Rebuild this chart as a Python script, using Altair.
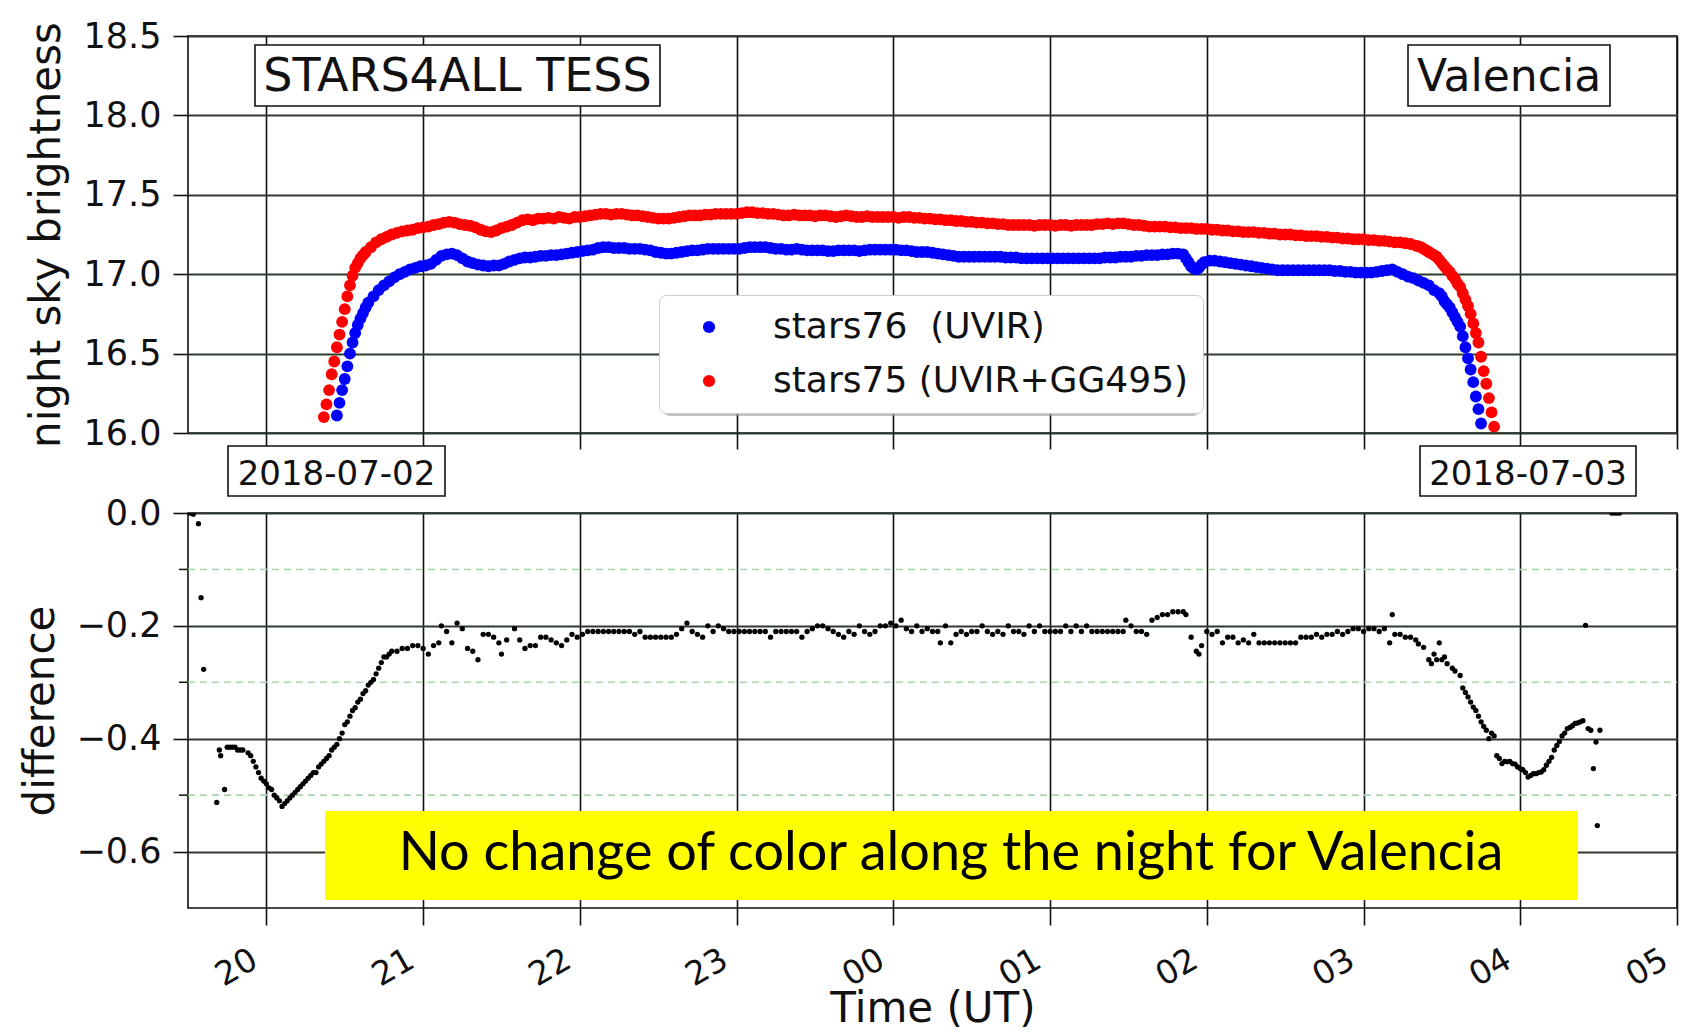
import altair as alt
import pandas as pd

# ---------------- data (minutes after 20:00 UT, value) ----------------
STARS76_UVIR = [
    (27, 16.11), (28, 16.19), (29, 16.27), (30, 16.34), (31, 16.42), (32, 16.50), (33, 16.57), (34, 16.63),
    (35, 16.68), (36, 16.72), (37, 16.755), (38, 16.79), (39, 16.82), (41, 16.86), (43, 16.90), (45, 16.93),
    (47, 16.955), (49, 16.98), (51, 17.00), (53, 17.015), (55, 17.03), (57, 17.04), (59, 17.05), (61, 17.055),
    (63, 17.065), (65, 17.09), (67, 17.115), (69, 17.125), (71, 17.13), (73, 17.12), (75, 17.10), (77, 17.08),
    (79, 17.07), (81, 17.06), (83, 17.055), (85, 17.05), (87, 17.055), (89, 17.055), (91, 17.065), (93, 17.08),
    (95, 17.09), (97, 17.10), (99, 17.105), (101, 17.105), (103, 17.11), (105, 17.115), (107, 17.115), (109, 17.12),
    (111, 17.12), (113, 17.125), (115, 17.13), (117, 17.135), (119, 17.14), (121, 17.145), (123, 17.15), (125, 17.155),
    (127, 17.165), (129, 17.17), (131, 17.17), (133, 17.165), (135, 17.165), (137, 17.165), (139, 17.16), (141, 17.16),
    (143, 17.16), (145, 17.155), (147, 17.15), (149, 17.14), (151, 17.135), (153, 17.13), (155, 17.13), (157, 17.135),
    (159, 17.14), (161, 17.145), (163, 17.15), (165, 17.15), (167, 17.155), (169, 17.16), (171, 17.16), (173, 17.16),
    (175, 17.16), (177, 17.16), (179, 17.16), (181, 17.16), (183, 17.165), (185, 17.17), (187, 17.17), (189, 17.17),
    (191, 17.17), (193, 17.165), (195, 17.16), (197, 17.16), (199, 17.155), (201, 17.155), (203, 17.16), (205, 17.155),
    (207, 17.15), (209, 17.15), (211, 17.15), (213, 17.15), (215, 17.145), (217, 17.145), (219, 17.15), (221, 17.15),
    (223, 17.15), (225, 17.15), (227, 17.145), (229, 17.15), (231, 17.155), (233, 17.155), (235, 17.155), (237, 17.155),
    (239, 17.155), (241, 17.155), (243, 17.15), (245, 17.15), (247, 17.145), (249, 17.14), (251, 17.14), (253, 17.14),
    (255, 17.135), (257, 17.13), (259, 17.125), (261, 17.12), (263, 17.115), (265, 17.11), (267, 17.11), (269, 17.11),
    (271, 17.11), (273, 17.11), (275, 17.11), (277, 17.11), (279, 17.11), (281, 17.11), (283, 17.105), (285, 17.105),
    (287, 17.105), (289, 17.10), (291, 17.10), (293, 17.10), (295, 17.10), (297, 17.10), (299, 17.10), (301, 17.10),
    (303, 17.10), (305, 17.10), (307, 17.10), (309, 17.10), (311, 17.10), (313, 17.10), (315, 17.10), (317, 17.10),
    (319, 17.10), (321, 17.105), (323, 17.105), (325, 17.105), (327, 17.11), (329, 17.11), (331, 17.11), (333, 17.115),
    (335, 17.115), (337, 17.12), (339, 17.12), (341, 17.12), (343, 17.125), (345, 17.125), (347, 17.13), (349, 17.13),
    (351, 17.125), (352, 17.10), (353, 17.075), (354, 17.05), (355, 17.035), (356, 17.03), (357, 17.04), (358, 17.06),
    (359, 17.075), (361, 17.085), (363, 17.085), (365, 17.08), (367, 17.075), (369, 17.07), (371, 17.065), (373, 17.06),
    (375, 17.055), (377, 17.05), (379, 17.045), (381, 17.04), (383, 17.035), (385, 17.03), (387, 17.025), (389, 17.025),
    (391, 17.025), (393, 17.025), (395, 17.025), (397, 17.025), (399, 17.025), (401, 17.025), (403, 17.025), (405, 17.025),
    (407, 17.025), (409, 17.02), (411, 17.02), (413, 17.015), (415, 17.015), (417, 17.01), (419, 17.01), (421, 17.01),
    (423, 17.01), (425, 17.015), (427, 17.02), (429, 17.025), (431, 17.03), (433, 17.015), (435, 17.00), (437, 16.985),
    (439, 16.975), (441, 16.96), (443, 16.945), (445, 16.93), (447, 16.90), (449, 16.88), (450, 16.86), (451, 16.83),
    (452, 16.81), (453, 16.79), (454, 16.76), (455, 16.73), (456, 16.70), (457, 16.67), (458, 16.61), (459, 16.54),
    (460, 16.47), (461, 16.40), (462, 16.32), (463, 16.23), (464, 16.15), (465, 16.06),
]

STARS75_UVIR_GG495 = [
    (22, 16.10), (23, 16.18), (24, 16.27), (25, 16.37), (26, 16.45), (27, 16.54), (28, 16.62), (29, 16.70),
    (30, 16.78), (31, 16.86), (32, 16.93), (33, 16.99), (34, 17.04), (35, 17.07), (36, 17.10), (37, 17.12),
    (38, 17.14), (40, 17.17), (42, 17.20), (44, 17.22), (46, 17.235), (48, 17.25), (50, 17.26), (52, 17.27),
    (54, 17.275), (56, 17.28), (58, 17.29), (60, 17.295), (62, 17.30), (64, 17.31), (66, 17.315), (68, 17.325),
    (70, 17.33), (72, 17.325), (74, 17.315), (76, 17.31), (78, 17.305), (80, 17.295), (82, 17.28), (84, 17.27),
    (86, 17.265), (88, 17.275), (90, 17.29), (92, 17.30), (94, 17.31), (96, 17.325), (98, 17.34), (100, 17.345),
    (102, 17.34), (104, 17.35), (106, 17.35), (108, 17.355), (110, 17.35), (112, 17.36), (114, 17.355), (116, 17.35),
    (118, 17.36), (120, 17.36), (122, 17.365), (124, 17.37), (126, 17.375), (128, 17.38), (130, 17.38), (132, 17.375),
    (134, 17.38), (136, 17.38), (138, 17.375), (140, 17.37), (142, 17.37), (144, 17.365), (146, 17.36), (148, 17.355),
    (150, 17.35), (152, 17.35), (154, 17.35), (156, 17.355), (158, 17.36), (160, 17.365), (162, 17.37), (164, 17.37),
    (166, 17.37), (168, 17.375), (170, 17.375), (172, 17.38), (174, 17.38), (176, 17.38), (178, 17.38), (180, 17.38),
    (182, 17.385), (184, 17.39), (186, 17.39), (188, 17.385), (190, 17.385), (192, 17.38), (194, 17.38), (196, 17.375),
    (198, 17.37), (200, 17.37), (202, 17.375), (204, 17.37), (206, 17.37), (208, 17.37), (210, 17.365), (212, 17.37),
    (214, 17.37), (216, 17.365), (218, 17.36), (220, 17.365), (222, 17.37), (224, 17.365), (226, 17.36), (228, 17.36),
    (230, 17.365), (232, 17.36), (234, 17.36), (236, 17.36), (238, 17.36), (240, 17.36), (242, 17.355), (244, 17.36),
    (246, 17.36), (248, 17.355), (250, 17.355), (252, 17.35), (254, 17.35), (256, 17.345), (258, 17.345), (260, 17.34),
    (262, 17.34), (264, 17.335), (266, 17.335), (268, 17.33), (270, 17.33), (272, 17.325), (274, 17.325), (276, 17.32),
    (278, 17.32), (280, 17.315), (282, 17.315), (284, 17.31), (286, 17.31), (288, 17.31), (290, 17.31), (292, 17.31),
    (294, 17.305), (296, 17.31), (298, 17.31), (300, 17.31), (302, 17.305), (304, 17.31), (306, 17.31), (308, 17.305),
    (310, 17.31), (312, 17.31), (314, 17.31), (316, 17.31), (318, 17.315), (320, 17.315), (322, 17.32), (324, 17.315),
    (326, 17.32), (328, 17.32), (330, 17.315), (332, 17.31), (334, 17.31), (336, 17.305), (338, 17.30), (340, 17.30),
    (342, 17.30), (344, 17.30), (346, 17.295), (348, 17.295), (350, 17.29), (352, 17.29), (354, 17.29), (356, 17.285),
    (358, 17.285), (360, 17.285), (362, 17.28), (364, 17.28), (366, 17.275), (368, 17.275), (370, 17.27), (372, 17.27),
    (374, 17.265), (376, 17.265), (378, 17.265), (380, 17.26), (382, 17.26), (384, 17.255), (386, 17.255), (388, 17.25),
    (390, 17.25), (392, 17.25), (394, 17.245), (396, 17.245), (398, 17.24), (400, 17.24), (402, 17.24), (404, 17.235),
    (406, 17.235), (408, 17.23), (410, 17.23), (412, 17.225), (414, 17.225), (416, 17.22), (418, 17.22), (420, 17.22),
    (422, 17.215), (424, 17.215), (426, 17.21), (428, 17.21), (430, 17.205), (432, 17.20), (434, 17.20), (436, 17.195),
    (438, 17.19), (440, 17.18), (441, 17.175), (442, 17.17), (443, 17.16), (444, 17.15), (445, 17.14), (446, 17.13),
    (447, 17.12), (448, 17.11), (449, 17.09), (450, 17.07), (451, 17.05), (452, 17.03), (453, 17.015), (454, 16.99),
    (455, 16.97), (456, 16.94), (457, 16.92), (458, 16.88), (459, 16.84), (460, 16.80), (461, 16.75), (462, 16.69),
    (463, 16.63), (464, 16.57), (465, 16.48), (466, 16.39), (467, 16.31), (468, 16.22), (469, 16.13), (470, 16.04),
]

DIFFERENCE = [
    (-30, 0.0), (-29, 0.0), (-28, -0.002), (-26, -0.019), (-25, -0.15), (-24, -0.277), (-19, -0.513), (-18, -0.42),
    (-17.5, -0.43), (-16, -0.49), (-15, -0.415), (-14, -0.415), (-13, -0.415), (-12, -0.415), (-11, -0.42), (-10, -0.42),
    (-9, -0.42), (-7, -0.425), (-6, -0.43), (-5, -0.44), (-4, -0.45), (-3, -0.46), (-2, -0.47), (-1, -0.475),
    (0, -0.48), (1, -0.487), (2, -0.49), (3, -0.50), (4, -0.505), (5, -0.51), (6, -0.52), (7, -0.515),
    (8, -0.51), (9, -0.505), (10, -0.50), (11, -0.495), (12, -0.49), (13, -0.485), (14, -0.48), (15, -0.475),
    (16, -0.47), (17, -0.465), (18, -0.46), (19, -0.46), (20, -0.45), (21, -0.445), (22, -0.44), (23, -0.435),
    (24, -0.43), (25, -0.42), (26, -0.415), (27, -0.41), (28, -0.40), (29, -0.39), (30, -0.375), (31, -0.37),
    (32, -0.36), (33, -0.35), (34, -0.345), (35, -0.335), (36, -0.33), (37, -0.32), (38, -0.315), (39, -0.305),
    (40, -0.30), (41, -0.295), (42, -0.285), (43, -0.275), (44, -0.265), (45, -0.255), (46, -0.255), (47, -0.25),
    (48, -0.245), (50, -0.245), (52, -0.24), (54, -0.24), (56, -0.235), (58, -0.235), (60, -0.24), (62, -0.25),
    (64, -0.235), (66, -0.23), (67, -0.20), (69, -0.21), (71, -0.23), (73, -0.195), (75, -0.205), (77, -0.24),
    (79, -0.245), (81, -0.26), (83, -0.215), (85, -0.215), (87, -0.22), (89, -0.23), (90, -0.25), (92, -0.225),
    (95, -0.205), (97, -0.225), (99, -0.24), (101, -0.235), (103, -0.235), (105, -0.22), (107, -0.22), (109, -0.225),
    (111, -0.23), (113, -0.235), (115, -0.225), (117, -0.215), (119, -0.22), (121, -0.215), (123, -0.21), (125, -0.21),
    (127, -0.21), (129, -0.21), (131, -0.21), (133, -0.21), (135, -0.21), (137, -0.21), (139, -0.21), (141, -0.215),
    (143, -0.21), (145, -0.22), (147, -0.22), (149, -0.22), (151, -0.22), (153, -0.22), (155, -0.22), (157, -0.215),
    (159, -0.205), (161, -0.195), (163, -0.21), (165, -0.215), (167, -0.22), (169, -0.20), (171, -0.21), (173, -0.20),
    (175, -0.205), (177, -0.21), (179, -0.21), (181, -0.21), (183, -0.21), (185, -0.21), (187, -0.21), (189, -0.21),
    (191, -0.21), (193, -0.22), (195, -0.21), (197, -0.21), (199, -0.21), (201, -0.21), (203, -0.21), (205, -0.22),
    (207, -0.21), (209, -0.205), (211, -0.20), (213, -0.20), (215, -0.205), (217, -0.21), (219, -0.215), (221, -0.22),
    (223, -0.21), (225, -0.215), (227, -0.20), (229, -0.21), (231, -0.215), (233, -0.21), (235, -0.20), (237, -0.20),
    (239, -0.195), (241, -0.20), (243, -0.19), (245, -0.205), (247, -0.21), (249, -0.20), (251, -0.21), (253, -0.205),
    (255, -0.21), (257, -0.21), (258, -0.23), (260, -0.20), (262, -0.23), (264, -0.215), (266, -0.21), (268, -0.215),
    (270, -0.21), (272, -0.21), (274, -0.20), (276, -0.21), (278, -0.215), (280, -0.21), (282, -0.215), (284, -0.20),
    (286, -0.21), (288, -0.21), (290, -0.215), (292, -0.20), (294, -0.21), (296, -0.20), (298, -0.21), (300, -0.21),
    (302, -0.21), (304, -0.21), (306, -0.20), (308, -0.21), (310, -0.20), (312, -0.21), (314, -0.20), (316, -0.21),
    (318, -0.21), (320, -0.21), (322, -0.21), (324, -0.21), (326, -0.21), (328, -0.21), (329, -0.19), (331, -0.20),
    (333, -0.21), (335, -0.21), (337, -0.215), (339, -0.19), (341, -0.185), (343, -0.18), (345, -0.18), (347, -0.175),
    (349, -0.175), (351, -0.175), (352, -0.18), (354, -0.22), (356, -0.245), (357, -0.25), (358, -0.235), (360, -0.21),
    (362, -0.215), (364, -0.21), (366, -0.23), (368, -0.22), (370, -0.22), (372, -0.23), (374, -0.225), (376, -0.23),
    (378, -0.215), (380, -0.23), (382, -0.23), (384, -0.23), (386, -0.23), (388, -0.23), (390, -0.23), (392, -0.23),
    (394, -0.23), (396, -0.22), (398, -0.22), (400, -0.22), (402, -0.215), (404, -0.22), (406, -0.215), (408, -0.215),
    (410, -0.21), (412, -0.215), (414, -0.21), (416, -0.205), (418, -0.205), (420, -0.21), (422, -0.205), (424, -0.205),
    (426, -0.21), (428, -0.205), (430, -0.23), (431, -0.18), (432, -0.215), (434, -0.215), (436, -0.22), (438, -0.22),
    (440, -0.225), (441, -0.232), (443, -0.238), (445, -0.26), (446, -0.267), (447, -0.25), (448, -0.26), (449, -0.23),
    (450, -0.26), (451, -0.255), (452, -0.267), (454, -0.275), (455, -0.28), (457, -0.288), (458, -0.31), (459, -0.318),
    (460, -0.326), (461, -0.335), (462, -0.344), (463, -0.35), (464, -0.36), (465, -0.37), (466, -0.378), (467, -0.385),
    (468, -0.40), (469, -0.39), (470, -0.395), (471, -0.43), (472, -0.435), (473, -0.444), (474, -0.44), (475, -0.441),
    (476, -0.44), (477, -0.444), (478, -0.445), (479, -0.45), (480, -0.453), (481, -0.455), (482, -0.46), (483, -0.468),
    (484, -0.465), (485, -0.462), (486, -0.462), (487, -0.46), (488, -0.459), (489, -0.455), (490, -0.447), (491, -0.44),
    (492, -0.433), (493, -0.42), (494, -0.412), (495, -0.405), (496, -0.395), (497, -0.39), (498, -0.382), (499, -0.38),
    (500, -0.377), (501, -0.373), (502, -0.372), (503, -0.37), (504, -0.368), (505, -0.199), (506, -0.382), (507, -0.385),
    (508, -0.453), (509, -0.406), (509.5, -0.554), (510.5, -0.385), (515, 0.0), (516, 0.0), (517, 0.0), (518, 0.0),
]

SERIES_NAMES = ["stars76\u00a0 (UVIR)", "stars75 (UVIR+GG495)"]
SERIES_COLORS = ["#0000ff", "#ff0000"]
HOURS = [20, 21, 22, 23, 24, 25, 26, 27, 28, 29]
TOP_TICKS = [16.0, 16.5, 17.0, 17.5, 18.0, 18.5]
BOTTOM_TICKS = [0.0, -0.2, -0.4, -0.6]
BOTTOM_MINOR = [-0.1, -0.3, -0.5]
TITLE_TEXTS = ["STARS4ALL TESS", "Valencia", "2018-07-02", "2018-07-03"]
BANNER_TEXT = ["No change of color along the night for Valencia"]

# ---------------- frames ----------------
def hours(m):
    return 20 + m / 60.0

rows = []
for name, pairs in zip(SERIES_NAMES, [STARS76_UVIR, STARS75_UVIR_GG495]):
    for m, v in pairs:
        rows.append({"t": hours(m), "v": v, "series": name})
top_df = pd.DataFrame(rows)
diff_df = pd.DataFrame({"t": [hours(m) for m, _ in DIFFERENCE], "d": [d for _, d in DIFFERENCE]})
minor_df = pd.DataFrame({"d": BOTTOM_MINOR})

FONT = "DejaVu Sans"
W = 1489
H_TOP = 397
H_BOT = 395
INK = "#111111"
HGRID = "#2c3c2c"

x_scale = alt.Scale(domain=[19.5, 29], nice=False, zero=False)
hour_label = "(datum.value % 24 < 10 ? '0' : '') + (datum.value % 24)"

AXIS_TEXT = dict(labelFont=FONT, titleFont=FONT, labelColor=INK, titleColor=INK, titleFontWeight="normal")


def boxed(text, x1, x2, y1, y2, ty, size):
    base = alt.Chart(pd.DataFrame({"label": [text]}))
    r = base.mark_rect(fill="white", stroke=INK, strokeWidth=1.6).encode(
        x=alt.value(x1), x2=alt.value(x2), y=alt.value(y1), y2=alt.value(y2))
    t = base.mark_text(font=FONT, fontSize=size, align="center", baseline="alphabetic", color=INK).encode(
        x=alt.value((x1 + x2) / 2), y=alt.value(ty), text="label:N")
    return [r, t]


# ---------------- top panel ----------------
top_points = alt.Chart(top_df).mark_circle(size=140, opacity=1, clip=True).encode(
    x=alt.X("t:Q", scale=x_scale,
            axis=alt.Axis(values=HOURS, labels=False, ticks=True, tickSize=16, tickColor=INK,
                          tickWidth=1.6, grid=True, gridColor=INK, gridWidth=1.6, domain=False, title=None)),
    y=alt.Y("v:Q", scale=alt.Scale(domain=[16, 18.5], nice=False, zero=False),
            axis=alt.Axis(values=TOP_TICKS, format=".1f", labelFontSize=35, tickSize=15, tickColor=INK,
                          tickWidth=1.6, labelPadding=12, grid=True, gridColor=HGRID, gridWidth=2,
                          title="night sky brightness", titleFontSize=42, titlePadding=15, domain=False,
                          **AXIS_TEXT)),
    color=alt.Color("series:N", scale=alt.Scale(domain=SERIES_NAMES, range=SERIES_COLORS),
                    sort=SERIES_NAMES,
                    legend=alt.Legend(orient="none", legendX=471, legendY=259, title=None,
                                      labelFontSize=36, labelFont=FONT, labelColor=INK,
                                      symbolType="circle", symbolSize=150, symbolOpacity=1,
                                      symbolStrokeWidth=0, padding=14, symbolOffset=18,
                                      labelOffset=46, rowPadding=18, fillColor="white",
                                      strokeColor="#cccccc", cornerRadius=7, labelLimit=800)),
    order=alt.Order("order_key:Q"),
).transform_calculate(order_key="datum.series == '" + SERIES_NAMES[0] + "' ? 0 : 1")

shadow = alt.Chart(pd.DataFrame({"k": [0]})).mark_rect(fill="#9a9a9a", opacity=0.6, cornerRadius=7).encode(
    x=alt.value(475), x2=alt.value(1012), y=alt.value(264), y2=alt.value(380))

top_layers = [top_points, shadow]
top_layers += boxed(TITLE_TEXTS[0], 67, 472, 9, 70, 55, 46)
top_layers += boxed(TITLE_TEXTS[1], 1220, 1422, 9, 70, 55, 44)
top_layers += boxed(TITLE_TEXTS[2], 40, 257, 410, 460, 449, 34)
top_layers += boxed(TITLE_TEXTS[3], 1232, 1448, 410, 460, 449, 34)
top = alt.layer(*top_layers).properties(width=W, height=H_TOP)

# ---------------- bottom panel ----------------
minor_grid = alt.Chart(minor_df).mark_rule(color="#a9d6a9", strokeWidth=1.6, strokeDash=[7, 5]).encode(
    y=alt.Y("d:Q"), x=alt.value(0), x2=alt.value(W))
minor_ticks = alt.Chart(minor_df).mark_rule(color=INK, strokeWidth=1.5).encode(
    y=alt.Y("d:Q"), x=alt.value(-9), x2=alt.value(0))

diff_points = alt.Chart(diff_df).mark_circle(size=28, opacity=1, color="black", clip=True).encode(
    x=alt.X("t:Q", scale=x_scale,
            axis=alt.Axis(values=HOURS, labelExpr=hour_label, labelAngle=330, labelAlign="right",
                          labelBaseline="top", labelFontSize=33, labelPadding=18, labelOffset=-20,
                          tickSize=17, tickColor=INK,
                          tickWidth=1.6, grid=True, gridColor=INK, gridWidth=1.6, domain=False,
                          title="Time (UT)", titleFontSize=42, titleY=80, titleBaseline="top",
                          **AXIS_TEXT)),
    y=alt.Y("d:Q", scale=alt.Scale(domain=[-0.7, 0.0], nice=False, zero=False),
            axis=alt.Axis(values=BOTTOM_TICKS, labelExpr="replace(format(datum.value, '.1f'), '-', '\u2212')",
                          labelFontSize=35, tickSize=15, tickColor=INK, tickWidth=1.6, labelPadding=12,
                          grid=True, gridColor=HGRID, gridWidth=2, title="difference", titleFontSize=42,
                          titlePadding=14, domain=False, **AXIS_TEXT)),
)

banner_base = alt.Chart(pd.DataFrame({"label": BANNER_TEXT}))
banner_rect = banner_base.mark_rect(fill="#ffff00").encode(
    x=alt.value(137), x2=alt.value(1390), y=alt.value(298), y2=alt.value(387))
banner_text = banner_base.mark_text(font="Lato", fontSize=54, align="center", baseline="alphabetic",
                                    color="black").encode(
    x=alt.value(763), y=alt.value(357), text="label:N")

bottom = alt.layer(minor_grid, minor_ticks, diff_points, banner_rect, banner_text).properties(
    width=W, height=H_BOT)

chart = alt.vconcat(top, bottom, spacing=80, bounds="flush").resolve_legend(color="independent").properties(
    padding={"left": 18, "top": 18, "right": 5, "bottom": 5}, background="white"
).configure_axis(**AXIS_TEXT).configure_view(stroke=INK, strokeWidth=1.6)

chart.save("out.html", embed_options={"renderer": "svg", "actions": False})
